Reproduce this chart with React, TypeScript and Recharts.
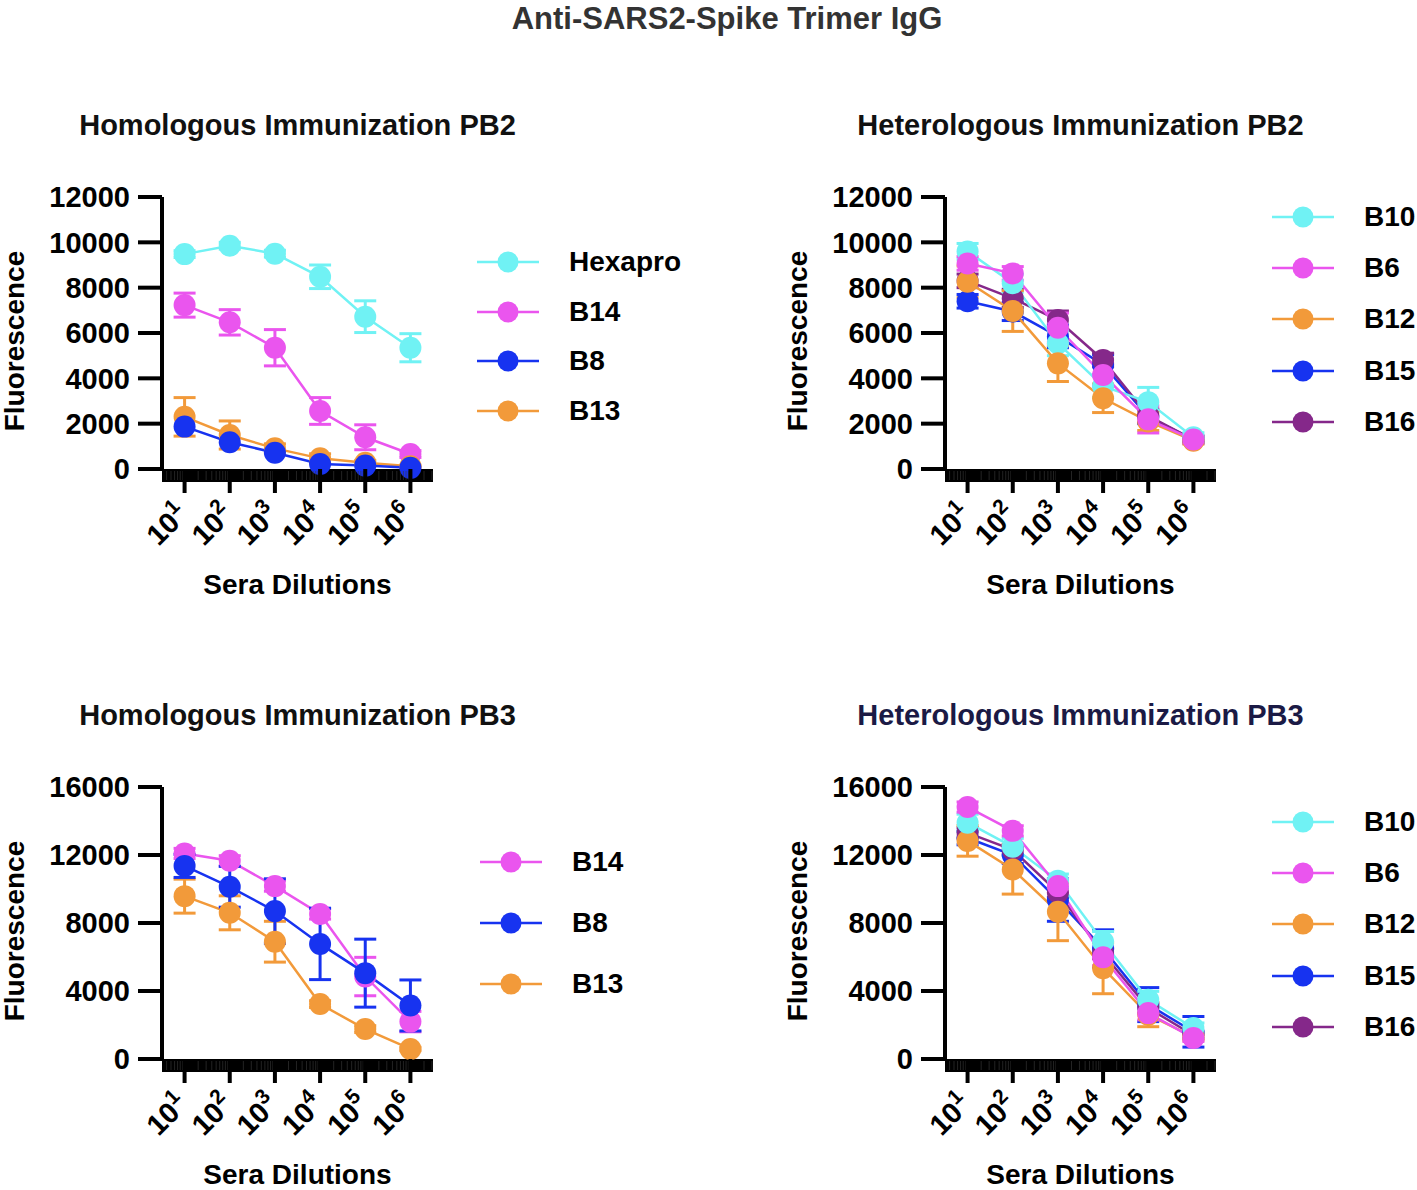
import React from "react";
import { LineChart, Line, XAxis, YAxis, ErrorBar } from "recharts";

// sera dilutions (x) and their exponent labels
const dilutions = [10, 100, 1000, 10000, 100000, 1000000];
const dilutionExponents = ["1", "2", "3", "4", "5", "6"];
const xDomain = [Math.sqrt(10), Math.sqrt(10) * 1000000];

// y ticks
const pb2Ticks = [0, 2000, 4000, 6000, 8000, 10000, 12000];
const pb3Ticks = [0, 4000, 8000, 12000, 16000];

// Homologous Immunization PB2
const homPB2Hexapro = [9480, 9850, 9500, 8480, 6720, 5350];
const homPB2HexaproErr = [150, 150, 150, 520, 700, 620];
const homPB2B14 = [7230, 6470, 5350, 2560, 1400, 660];
const homPB2B14Err = [530, 560, 800, 590, 550, 150];
const homPB2B8 = [1870, 1180, 720, 220, 150, 50];
const homPB2B8Err = [0, 0, 0, 0, 0, 0];
const homPB2B13 = [2300, 1500, 910, 470, 280, 120];
const homPB2B13Err = [850, 620, 200, 200, 100, 50];

// Heterologous Immunization PB2
const hetPB2B10 = [9600, 8200, 5550, 3650, 2950, 1400];
const hetPB2B10Err = [350, 400, 550, 500, 650, 200];
const hetPB2B6 = [9070, 8630, 6230, 4150, 2190, 1300];
const hetPB2B6Err = [300, 300, 650, 500, 600, 150];
const hetPB2B12 = [8260, 6970, 4660, 3120, 2100, 1250];
const hetPB2B12Err = [700, 900, 800, 630, 400, 150];
const hetPB2B15 = [7400, 6950, 5850, 4600, 2300, 1300];
const hetPB2B15Err = [300, 400, 500, 450, 300, 150];
const hetPB2B16 = [8300, 7530, 6570, 4810, 2350, 1300];
const hetPB2B16Err = [300, 400, 400, 300, 300, 150];

// Homologous Immunization PB3
const homPB3B14 = [12090, 11660, 10170, 8530, 4850, 2200];
const homPB3B14Err = [300, 300, 300, 300, 1130, 600];
const homPB3B8 = [11360, 10130, 8700, 6770, 5050, 3150];
const homPB3B8Err = [680, 1200, 1900, 2100, 2000, 1500];
const homPB3B13 = [9580, 8600, 6900, 3230, 1760, 590];
const homPB3B13Err = [1000, 1000, 1200, 200, 200, 100];

// Heterologous Immunization PB3
const hetPB3B10 = [13900, 12480, 10480, 6900, 3480, 1820];
const hetPB3B10Err = [500, 500, 400, 600, 500, 300];
const hetPB3B6 = [14820, 13420, 10170, 5990, 2700, 1230];
const hetPB3B6Err = [300, 300, 400, 500, 400, 200];
const hetPB3B12 = [12830, 11150, 8660, 5340, 2600, 1300];
const hetPB3B12Err = [900, 1450, 1700, 1500, 700, 200];
const hetPB3B15 = [13000, 12000, 9350, 6500, 3200, 1600];
const hetPB3B15Err = [400, 500, 1250, 1100, 1000, 900];
const hetPB3B16 = [13300, 12300, 9800, 6200, 3000, 1400];
const hetPB3B16Err = [300, 300, 300, 300, 300, 200];

const CYAN = "#70f2f4";
const MAGENTA = "#ea55ee";
const BLUE = "#1733f0";
const ORANGE = "#f29a3a";
const PURPLE = "#85288a";

const FONT = '"Liberation Sans", Arial, Helvetica, sans-serif';

// minor log ticks 2..9 x 10^n inside the domain
const minorTicks: number[] = [];
for (let e = 0; e <= 6; e++) {
  for (let k = 2; k <= 9; k++) {
    const v = k * Math.pow(10, e);
    if (v > xDomain[0] && v < xDomain[1]) minorTicks.push(v);
  }
}

interface Series {
  name: string;
  color: string;
  values: number[];
  errors: number[];
}

interface Panel {
  title: string;
  titleColor: string;
  left: number;
  top: number;
  yMax: number;
  yTicks: number[];
  series: Series[];
  drawOrder: string[];
  legendLeft: number;
  legendTop: number;
  legendGap: number;
}

const panels: Panel[] = [
  {
    title: "Homologous Immunization PB2",
    titleColor: "#111",
    left: 0,
    top: 150,
    yMax: 12000,
    yTicks: pb2Ticks,
    series: [
      { name: "Hexapro", color: CYAN, values: homPB2Hexapro, errors: homPB2HexaproErr },
      { name: "B14", color: MAGENTA, values: homPB2B14, errors: homPB2B14Err },
      { name: "B8", color: BLUE, values: homPB2B8, errors: homPB2B8Err },
      { name: "B13", color: ORANGE, values: homPB2B13, errors: homPB2B13Err },
    ],
    drawOrder: ["Hexapro", "B14", "B13", "B8"],
    legendLeft: 477,
    legendTop: 262,
    legendGap: 49.5,
  },
  {
    title: "Heterologous Immunization PB2",
    titleColor: "#111",
    left: 783,
    top: 150,
    yMax: 12000,
    yTicks: pb2Ticks,
    series: [
      { name: "B10", color: CYAN, values: hetPB2B10, errors: hetPB2B10Err },
      { name: "B6", color: MAGENTA, values: hetPB2B6, errors: hetPB2B6Err },
      { name: "B12", color: ORANGE, values: hetPB2B12, errors: hetPB2B12Err },
      { name: "B15", color: BLUE, values: hetPB2B15, errors: hetPB2B15Err },
      { name: "B16", color: PURPLE, values: hetPB2B16, errors: hetPB2B16Err },
    ],
    drawOrder: ["B15", "B16", "B10", "B12", "B6"],
    legendLeft: 1272,
    legendTop: 217,
    legendGap: 51.2,
  },
  {
    title: "Homologous Immunization PB3",
    titleColor: "#111",
    left: 0,
    top: 740,
    yMax: 16000,
    yTicks: pb3Ticks,
    series: [
      { name: "B14", color: MAGENTA, values: homPB3B14, errors: homPB3B14Err },
      { name: "B8", color: BLUE, values: homPB3B8, errors: homPB3B8Err },
      { name: "B13", color: ORANGE, values: homPB3B13, errors: homPB3B13Err },
    ],
    drawOrder: ["B13", "B14", "B8"],
    legendLeft: 480,
    legendTop: 862,
    legendGap: 61,
  },
  {
    title: "Heterologous Immunization PB3",
    titleColor: "#1b1a45",
    left: 783,
    top: 740,
    yMax: 16000,
    yTicks: pb3Ticks,
    series: [
      { name: "B10", color: CYAN, values: hetPB3B10, errors: hetPB3B10Err },
      { name: "B6", color: MAGENTA, values: hetPB3B6, errors: hetPB3B6Err },
      { name: "B12", color: ORANGE, values: hetPB3B12, errors: hetPB3B12Err },
      { name: "B15", color: BLUE, values: hetPB3B15, errors: hetPB3B15Err },
      { name: "B16", color: PURPLE, values: hetPB3B16, errors: hetPB3B16Err },
    ],
    drawOrder: ["B15", "B16", "B12", "B10", "B6"],
    legendLeft: 1272,
    legendTop: 822,
    legendGap: 51.2,
  },
];

// chart geometry (plot area is 271 x 272)
const CHART_W = 460;
const CHART_H = 450;
const Y_AXIS_W = 162;
const MARGIN = { top: 47, right: 27, bottom: 1, left: 0 };
const X_AXIS_H = 130;

function DilutionTick(props: any) {
  const { x, y, payload } = props;
  const idx = dilutions.indexOf(payload.value);
  if (idx < 0) {
    return <line x1={x} x2={x} y1={y + 2} y2={y + 11} stroke="#3a3a3a" strokeWidth={0.6} />;
  }
  return (
    <g>
      <line x1={x} x2={x} y1={y} y2={y + 24} stroke="#000" strokeWidth={4} />
      <text
        transform={`translate(${x + 5},${y + 47}) rotate(-45)`}
        textAnchor="end"
        fontFamily={FONT}
        fontWeight="bold"
        fontSize={29}
        fill="#000"
      >
        10
        <tspan dy={-12} fontSize={21}>
          {dilutionExponents[idx]}
        </tspan>
      </text>
    </g>
  );
}

function YTitle(props: any) {
  const vb = props.viewBox;
  const cx = vb.x + 14;
  const cy = vb.y + vb.height / 2 + 8;
  return (
    <text
      x={cx}
      y={cy}
      transform={`rotate(-90 ${cx} ${cy})`}
      textAnchor="middle"
      dominantBaseline="central"
      fontFamily={FONT}
      fontWeight="bold"
      fontSize={28}
      fill="#000"
    >
      Fluorescence
    </text>
  );
}

function XTitle(props: any) {
  const vb = props.viewBox;
  return (
    <text
      x={vb.x + vb.width / 2}
      y={vb.y + 125}
      textAnchor="middle"
      fontFamily={FONT}
      fontWeight="bold"
      fontSize={28}
      fill="#000"
    >
      Sera Dilutions
    </text>
  );
}

function LegendBlock({ panel }: { panel: Panel }) {
  return (
    <>
      {panel.series.map((s, i) => (
        <div
          key={s.name}
          style={{
            position: "absolute",
            left: panel.legendLeft,
            top: panel.legendTop + i * panel.legendGap - 16,
            height: 32,
            display: "flex",
            alignItems: "center",
          }}
        >
          <svg width={62} height={32}>
            <line x1={0} x2={62} y1={16} y2={16} stroke={s.color} strokeWidth={2.5} />
            <circle cx={31} cy={16} r={10.5} fill={s.color} />
          </svg>
          <span
            style={{
              marginLeft: 30,
              fontFamily: FONT,
              fontWeight: "bold",
              fontSize: 28,
              color: "#000",
              lineHeight: "32px",
            }}
          >
            {s.name}
          </span>
        </div>
      ))}
    </>
  );
}

function PanelChart({ panel }: { panel: Panel }) {
  const rows = dilutions.map((d, i) => {
    const row: Record<string, number> = { dilution: d };
    panel.series.forEach((s) => {
      row[s.name] = s.values[i];
      row[`${s.name}_err`] = s.errors[i];
    });
    return row;
  });
  const ordered = panel.drawOrder.map((n) => panel.series.find((s) => s.name === n)!);
  const plotCenter = panel.left + Y_AXIS_W + (CHART_W - Y_AXIS_W - MARGIN.right) / 2;

  return (
    <>
      <div
        style={{
          position: "absolute",
          left: plotCenter - 300,
          width: 600,
          top: panel.top - 41,
          textAlign: "center",
          fontFamily: FONT,
          fontWeight: "bold",
          fontSize: 29,
          lineHeight: "32px",
          color: panel.titleColor,
        }}
      >
        {panel.title}
      </div>
      <div style={{ position: "absolute", left: panel.left, top: panel.top }}>
        <LineChart width={CHART_W} height={CHART_H} data={rows} margin={MARGIN}>
          <XAxis
            dataKey="dilution"
            type="number"
            scale="log"
            domain={xDomain}
            ticks={[...minorTicks, ...dilutions]}
            interval={0}
            height={X_AXIS_H}
            tickSize={0}
            tickMargin={0}
            tickLine={false}
            axisLine={{ stroke: "#000", strokeWidth: 13, transform: "translate(0 6.5)" }}
            tick={<DilutionTick />}
            label={<XTitle />}
          />
          <YAxis
            type="number"
            domain={[0, panel.yMax]}
            ticks={panel.yTicks}
            interval={0}
            width={Y_AXIS_W}
            tickSize={24}
            tickMargin={8}
            axisLine={{ stroke: "#000", strokeWidth: 4 }}
            tickLine={{ stroke: "#000", strokeWidth: 4 }}
            tick={{ fill: "#000", fontSize: 29, fontWeight: "bold", fontFamily: FONT }}
            label={<YTitle />}
          />
          {ordered.map((s) => (
            <Line
              key={s.name}
              type="linear"
              dataKey={s.name}
              stroke={s.color}
              strokeWidth={2.5}
              dot={{ r: 11, fill: s.color, stroke: s.color, strokeWidth: 0 }}
              isAnimationActive={false}
            >
              <ErrorBar
                dataKey={`${s.name}_err`}
                direction="y"
                width={11}
                stroke={s.color}
                strokeWidth={3}
                isAnimationActive={false}
              />
            </Line>
          ))}
        </LineChart>
      </div>
      <LegendBlock panel={panel} />
    </>
  );
}

export default function App() {
  return (
    <div
      style={{
        position: "absolute",
        left: 0,
        top: 0,
        width: 1417,
        height: 1190,
        background: "#fff",
        overflow: "hidden",
      }}
    >
      <div
        style={{
          position: "absolute",
          left: 427,
          width: 600,
          top: 2,
          textAlign: "center",
          fontFamily: FONT,
          fontWeight: "bold",
          fontSize: 31,
          lineHeight: "34px",
          color: "#333",
        }}
      >
        Anti-SARS2-Spike Trimer IgG
      </div>
      {panels.map((p) => (
        <PanelChart key={p.title} panel={p} />
      ))}
    </div>
  );
}
